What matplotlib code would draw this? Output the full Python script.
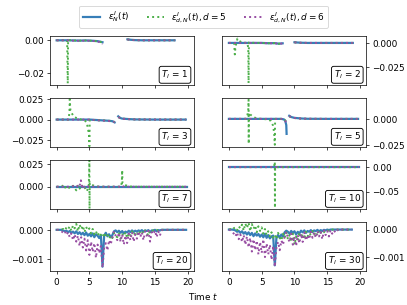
import numpy as np
import matplotlib
matplotlib.use("Agg")
import matplotlib.pyplot as plt

nan = np.nan

# colours of the three series
c_blue = "#377eb8"
c_green = "#4daf4a"
c_purple = "#984ea3"

# panel labels
T_labels = [1, 2, 3, 5, 7, 10, 20, 30]

# ---- T_l = 1 ----
t_T1 = [0, 1, 1.6, 1.7, 1.75, 2.5, 3.5, 4.5, 5.5, 6.2, 6.6, 7.0, 8.9, 10.8, 11.3, 12, 13, 15, 18]
blue_T1 = [0, 0, 0, 0, 0, -0.0001, -0.0002, -0.0001, -0.0003, -0.0005, -0.0008, -0.0012, nan,
           0.0006, 0.0003, 0.0001, 0, 0, 0]
green_T1 = [0, 0, 0, -0.0265, 0.0002, -0.0001, -0.0002, -0.0001, -0.0003, -0.0006, -0.0009, -0.0014, nan,
            0.0005, 0.0003, 0.0001, 0, 0, 0]
purple_T1 = [0, 0, 0, 0, 0, -0.0002, -0.0003, -0.0002, -0.0004, -0.0007, -0.0012, -0.0024, nan,
             0.0005, 0.0002, 0.0001, 0, 0, 0]

# ---- T_l = 2 ----
t_T2 = [0, 0.8, 0.9, 1.0, 1.3, 1.6, 2.0, 2.8, 2.95, 3.0, 3.05, 4, 5, 6, 7, 7.6, 8.2, 9.1,
        10.0, 10.5, 11, 12, 14, 18.9]
blue_T2 = [0, 0, 0, 0, 0, 0, 0, 0, 0, 0, 0, 0, 0, -0.0003, -0.0002, -0.0008, -0.0004, nan,
           0.0007, 0.0004, 0.0002, 0, 0, 0]
green_T2 = [0, 0, -0.012, -0.004, 0.0045, 0.002, 0.0005, 0, -0.005, -0.042, 0.0005, 0,
            0, -0.0003, -0.0002, -0.0008, -0.0004, nan, 0.0006, 0.0003, 0.0001, 0, 0, 0]
purple_T2 = [0, 0, 0, 0, 0, 0, 0, 0, 0, 0, 0, 0, 0, -0.0004, -0.0003, -0.001, -0.0005, nan,
             0.0006, 0.0003, 0.0001, 0, 0, 0]

# ---- T_l = 3 ----
t_T3 = [0, 1.8, 1.95, 2.0, 2.1, 2.3, 2.6, 3.0, 3.5, 4.3, 4.6, 4.8, 4.95, 5.0, 5.05,
        6, 7, 8, 8.5, 8.85, 9.1, 9.4, 9.7, 10, 11, 12, 15, 19.7]
blue_T3 = [0, 0, 0, 0, 0, 0, 0, 0, 0, 0, 0, 0, 0, 0, 0,
           -0.0005, -0.001, -0.0015, -0.002, -0.0035, nan, 0.004, 0.002, 0.0012, 0.0006, 0.0002, 0, 0]
green_T3 = [0, 0, 0.008, 0.025, 0.012, 0.008, 0.004, 0.002, 0.0005, -0.001, -0.004, -0.012, -0.02, -0.033, 0.0,
            -0.0008, -0.001, -0.0015, -0.002, -0.003, nan, 0.003, 0.002, 0.0012, 0.0006, 0.0002, 0, 0]
purple_T3 = [0, 0, 0, 0, 0, 0, 0, 0, 0, 0, 0, 0, 0, 0, 0,
             -0.0008, -0.0012, -0.0018, -0.0025, -0.003, nan, 0.003, 0.002, 0.001, 0.0005, 0.0002, 0, 0]

# ---- T_l = 5 ----
t_T5 = [0, 2.5, 2.8, 2.95, 3.0, 3.02, 3.05, 3.3, 3.7, 4.2, 5, 6.0, 6.4, 6.7, 6.9, 7.0, 7.05,
        8.0, 8.4, 8.6, 8.75, 8.8, 9.0, 9.2, 9.5, 10, 11, 12, 15, 19.7]
blue_T5 = [0, 0, 0, 0, 0, 0, 0, 0, 0, 0, 0, 0, 0, 0, 0, 0, 0,
           0, -0.0005, -0.002, -0.006, -0.0145, nan, 0.003, 0.0018, 0.001, 0.0004, 0.0001, 0, 0]
green_T5 = [0, 0, 0.003, 0.008, 0.0185, -0.024, 0.006, 0.004, 0.002, 0.0005, 0, -0.0005, -0.002,
            -0.006, -0.013, -0.025, 0.0,
            0, -0.0004, -0.0015, -0.003, -0.005, nan, 0.0025, 0.0015, 0.0008, 0.0003, 0.0001, 0, 0]
purple_T5 = [0, 0, 0, 0, 0, 0, 0, 0, 0, 0, 0, 0, 0, 0, 0, 0, 0,
             0, -0.0005, -0.002, -0.004, -0.006, nan, 0.0028, 0.0016, 0.0009, 0.0003, 0.0001, 0, 0]

# ---- T_l = 7 ----
t_blue_T7 = [0, 19.9]
blue_T7 = [0, 0]
t_T7 = [0, 0.8, 1.0, 1.3, 1.7, 2.0, 2.5, 3.0, 3.3, 3.6, 3.7, 3.9, 4.0, 4.3, 4.6, 4.9, 5.0, 5.02, 5.05,
        5.3, 5.8, 6.5, 9.8, 9.95, 10.0, 10.05, 10.3, 10.8, 11.5, 19.9]
green_T7 = [0, 0, 0.002, -0.001, 0.001, -0.002, 0.001, -0.004, 0.002, -0.003,
            -0.001, 0.001, 0.002, -0.001, -0.005, 0.0, 0.029, -0.024, 0.004, 0.002,
            0.001, 0, 0, 0.005, 0.018, 0.004, 0.002, 0.001, 0, 0]
purple_T7 = [0, 0, 0, 0, 0, 0, 0.0005, 0.002, -0.001, 0.003,
             0.007, 0.0, 0.002, -0.001, 0.001, 0, 0, 0, 0, 0,
             0, 0, 0, 0, 0.001, 0.0005, 0.0003, 0, 0, 0]

# ---- T_l = 10 ----
t_blue_T10 = [0, 19.9]
blue_T10 = [0, 0]
t_green_T10 = [0, 6.9, 7.0, 7.02, 7.05, 19.9]
green_T10 = [0, 0, 0.011, -0.083, 0, 0]
t_purple_T10 = [0, 19.9]
purple_T10 = [0, 0]

# ---- T_l = 20 (values in 1e-5, time step 0.25 from 0) ----
t_T20 = np.arange(0, 20, 0.25)
blue_T20 = [0, 0, 0, 0, -2, -5, -3, -8, -4, -10, -6, -12, -5, -14, -8, -16,
            -10, -18, -9, -20, -14, -22, -12, -25, -15, -20, -28, -18, -125, -20, -10, -22,
            -15, -25, -18, -5, -2, -8, -3, -10, -4, -12, -6, -9, -3, -8, -2, -7,
            -3, -6, -2, -5, -1, -6, -2, -4, -1, -8, -2, -3, 0, -5, -1, -2,
            0, 0, 0, 0, 0, 0, 0, 0, 0, 0, 0, 0, 0, 0, 0, 0]
green_T20 = [0, 0, 0, 1, 3, -2, 8, 2, 12, -3, 15, 5, 20, -5, 18, 2,
             14, -8, 10, -2, 5, -12, 3, -15, -5, -20, -8, -18, -25, -10, -22, -15,
             -30, -20, -28, -10, -20, -25, -12, -30, -15, -22, -8, -28, -12, -20, -5, -18,
             -8, -15, -3, -12, -5, -14, -2, -10, -20, -3, -6, -1, -3, 0, -2, 0,
             0, 0, 0, 0, 0, 0, 0, 0, 0, 0, 0, 0, 0, 0, 0, 0]
purple_T20 = [0, 0, -2, -5, -10, -4, -18, -8, -25, -12, -35, -15, -40, -20, -55, -25,
              -60, -30, -70, -35, -85, -40, -75, -45, -95, -50, -80, -55, -128, -60, -45, -70,
              -35, -50, -25, -5, -20, -35, -10, -40, -15, -50, -20, -45, -12, -35, -8, -40,
              -15, -30, -5, -25, -8, -35, -5, -20, -3, -40, -8, -15, -2, -25, -5, -20,
              -2, 0, 0, 0, 0, 0, 0, 0, 0, 0, 0, 0, 0, 0, 0, 0]

# ---- T_l = 30 (values in 1e-5, time step 0.25 from 0) ----
t_T30 = np.arange(0, 19, 0.25)
blue_T30 = [0, 0, 0, -1, -3, -8, -5, -12, -6, -15, -9, -18, -10, -20, -12, -24,
            -14, -22, -16, -26, -18, -28, -15, -30, -20, -32, -25, -22, -130, -28, -20, -30,
            -18, -25, -10, -4, -8, -15, -5, -12, -6, -18, -8, -14, -4, -10, -3, -12,
            -5, -8, -2, -9, -3, -6, -1, -7, -2, -5, -1, -3, 0, -2, 0, 0,
            0, 0, 0, 0, 0, 0, 0, 0, 0, 0, 0, 0]
green_T30 = [0, 2, -1, 5, 8, -2, 12, 4, 18, -4, 22, 6, 25, -6, 20, 3,
             15, -10, 12, -5, 8, -15, 2, -20, -6, -25, -10, -30, -20, -35, -12, -28,
             -40, -15, -30, -10, -35, -20, -45, -15, -55, -25, -40, -10, -30, -15, -35, -8,
             -25, -12, -20, -5, -18, -8, -22, -3, -12, -4, -10, -2, -6, -1, -3, 0,
             0, 0, 0, 0, 0, 0, 0, 0, 0, 0, 0, 0]
purple_T30 = [0, -3, -8, -15, -25, -10, -35, -18, -45, -20, -55, -25, -65, -30, -80, -35,
              -75, -40, -90, -45, -85, -35, -100, -50, -90, -55, -110, -60, -135, -65, -45, -75,
              -40, -55, -25, -8, -30, -45, -15, -55, -25, -60, -20, -50, -15, -45, -10, -40,
              -20, -35, -8, -30, -10, -30, -5, -25, -8, -35, -3, -20, -5, -25, -2, -15,
              -3, -10, 0, -5, 0, 0, 0, 0, 0, 0, 0, 0]

scale_small = 1e-5

panels = [
    ((t_T1, blue_T1), (t_T1, green_T1), (t_T1, purple_T1), (-0.0275, 0.0028), [0, -0.02]),
    ((t_T2, blue_T2), (t_T2, green_T2), (t_T2, purple_T2), (-0.0439, 0.0075), [0, -0.025]),
    ((t_T3, blue_T3), (t_T3, green_T3), (t_T3, purple_T3), (-0.034, 0.027), [-0.025, 0, 0.025]),
    ((t_T5, blue_T5), (t_T5, green_T5), (t_T5, purple_T5), (-0.0272, 0.0204), [0, -0.025]),
    ((t_blue_T7, blue_T7), (t_T7, green_T7), (t_T7, purple_T7), (-0.0245, 0.0294), [0, 0.025]),
    ((t_blue_T10, blue_T10), (t_green_T10, green_T10), (t_purple_T10, purple_T10), (-0.0855, 0.015), [0, -0.05]),
    ((t_T20, np.array(blue_T20) * scale_small), (t_T20, np.array(green_T20) * scale_small),
     (t_T20, np.array(purple_T20) * scale_small), (-0.0014, 0.00027), [0, -0.001]),
    ((t_T30, np.array(blue_T30) * scale_small), (t_T30, np.array(green_T30) * scale_small),
     (t_T30, np.array(purple_T30) * scale_small), (-0.00151, 0.00028), [0, -0.001]),
]

fig, axes = plt.subplots(4, 2, figsize=(6.4, 4.8), dpi=63.6, sharex=True)
fig.subplots_adjust(left=0.123, right=0.899, top=0.882, bottom=0.111, wspace=0.2, hspace=0.26)

for k, ax in enumerate(axes.flat):
    blue, green, purple, ylim, yticks = panels[k]
    ax.plot(blue[0], blue[1], color=c_blue, lw=2.5, ls="-", label=r"$\varepsilon^{I}_{N}(t)$")
    ax.plot(green[0], green[1], color=c_green, lw=2.2, ls=":", label=r"$\varepsilon^{I}_{d,N}(t), d=5$")
    ax.plot(purple[0], purple[1], color=c_purple, lw=2.2, ls=":", label=r"$\varepsilon^{I}_{d,N}(t), d=6$")
    ax.set_ylim(*ylim)
    ax.set_yticks(yticks)
    ax.set_xlim(-1, 20.9)
    ax.set_xticks([0, 5, 10, 15, 20])
    if k % 2 == 1:
        ax.yaxis.tick_right()
    ax.text(0.965, 0.08, r"$T_l$ = %d" % T_labels[k], transform=ax.transAxes,
            ha="right", va="bottom",
            bbox=dict(boxstyle="round,pad=0.25", fc="white", ec="black"))

handles, labels = axes[0, 0].get_legend_handles_labels()
fig.legend(handles, labels, loc="upper center", ncol=3, bbox_to_anchor=(0.5, 0.995))
fig.text(0.5, 0.01, r"Time $t$", ha="center", va="bottom")

plt.savefig("out.png")
